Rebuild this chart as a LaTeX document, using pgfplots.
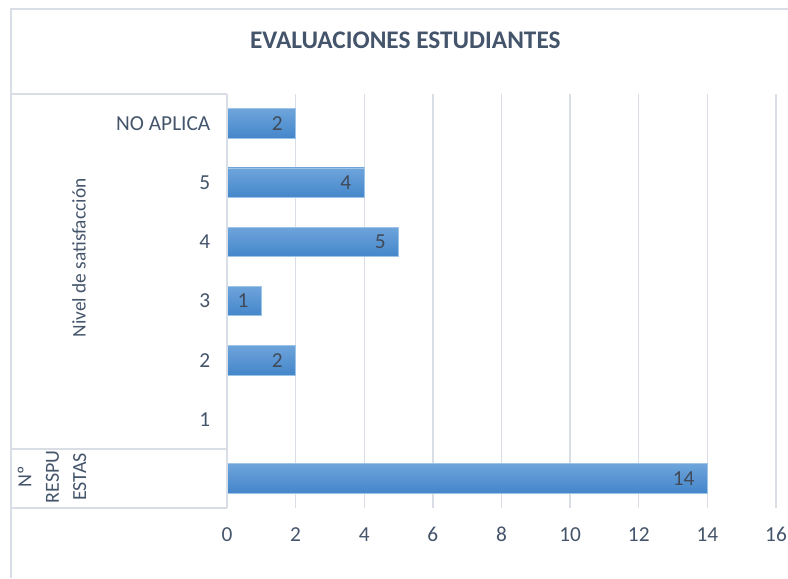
\documentclass[border=0pt]{standalone}
\usepackage{fontspec}
\setmainfont{Carlito}
\usepackage{pgfplots}
\pgfplotsset{compat=1.18}
\definecolor{txt}{HTML}{44546A}
\definecolor{lbl}{HTML}{404A58}
\definecolor{gridc}{HTML}{D9DEE6}
\definecolor{bartop}{HTML}{6EA4DB}
\definecolor{barmid}{HTML}{5A9BDD}
\definecolor{barbot}{HTML}{4486CA}
\definecolor{baredge}{HTML}{9DC3E6}

\begin{document}
\begin{tikzpicture}
\useasboundingbox (0,0) rectangle (591pt,-433.5pt);
% chart frame
\draw[gridc, line width=1.2pt] (8.25pt,-433.5pt) -- (8.25pt,-6.75pt) -- (591pt,-6.75pt);
% category box
\draw[gridc, line width=1pt] (8.25pt,-70.5pt) -- (170.25pt,-70.5pt);
\draw[gridc, line width=1pt] (8.25pt,-336.75pt) -- (170.25pt,-336.75pt);
\draw[gridc, line width=1pt] (8.25pt,-381pt) -- (170.25pt,-381pt);

\node[font=\fontsize{19}{22}\selectfont\bfseries, text=txt] at (304pt,-30pt) {EVALUACIONES ESTUDIANTES};

\begin{axis}[
  at={(170.25pt,-381pt)}, anchor=south west,
  scale only axis, width=411.75pt, height=310.5pt,
  xbar, bar width=0.5, bar shift=0pt,
  xmin=0, xmax=16, ymin=-0.5, ymax=6.5,
  xtick={0,2,...,16},
  ytick={0,1,2,3,4,5,6},
  yticklabels={,1,2,3,4,5,NO APLICA},
  xmajorgrids, grid style={gridc, line width=1pt},
  axis line style={draw=none},
  major tick length=0pt,
  tick label style={font=\fontsize{16}{19}\selectfont, text=txt},
  xticklabel style={yshift=-11pt},
  yticklabel style={xshift=-9pt},
  /pgf/number format/assume math mode=true,
  nodes near coords,
  every node near coord/.append style={anchor=east, inner sep=0pt, xshift=-9.5pt,
    font=\fontsize{16}{19}\selectfont, text=lbl},
  clip=false,
  bars/.style={draw=baredge, line width=0.5pt, top color=bartop, middle color=barmid, bottom color=barbot},
]
\addplot[bars] coordinates {(14,0)};
\addplot[bars] coordinates {(2,2)};
\addplot[bars] coordinates {(1,3)};
\addplot[bars] coordinates {(5,4)};
\addplot[bars] coordinates {(4,5)};
\addplot[bars] coordinates {(2,6)};
\draw[gridc, line width=1pt] (axis cs:0,-0.5) -- (axis cs:0,6.5);
\end{axis}

\node[rotate=90, font=\fontsize{14.5}{17}\selectfont, text=txt] at (59.25pt,-193.5pt) {Nivel de satisfacción};
\node[rotate=90, align=center, font=\fontsize{15}{20.5}\selectfont, text=txt] at (39pt,-357.75pt) {Nº\\RESPU\\ESTAS};
\end{tikzpicture}
\end{document}
